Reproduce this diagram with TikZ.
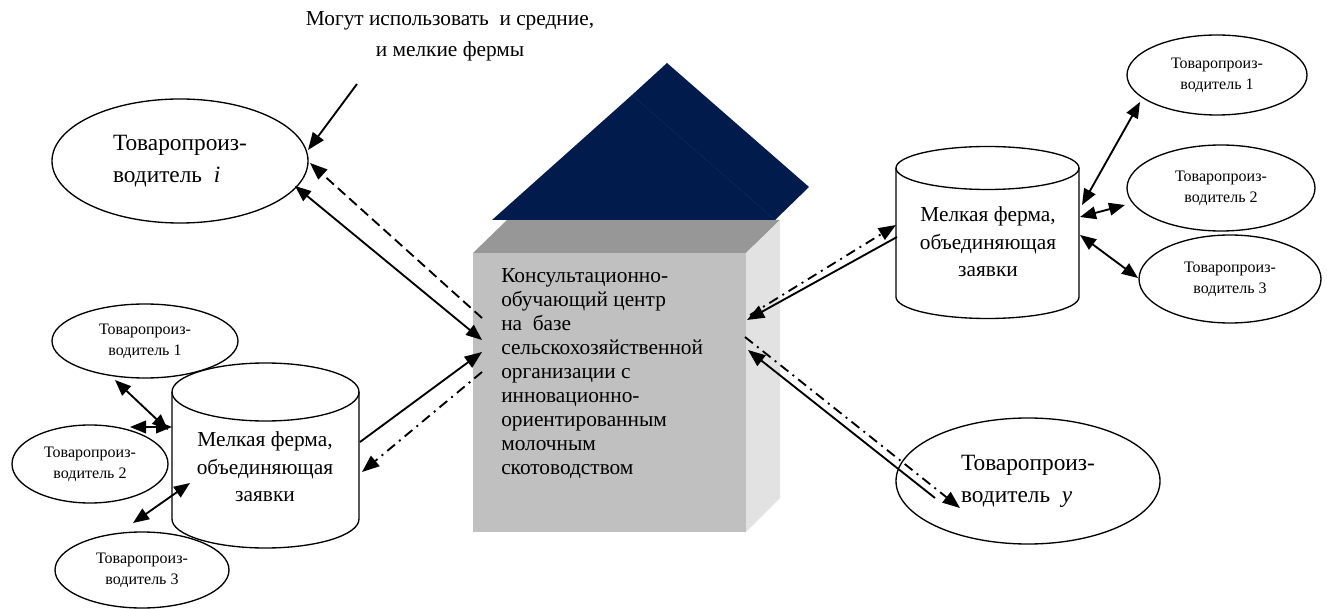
\documentclass[tikz,border=0pt]{standalone}
\usepackage{fontspec}
\setmainfont{Liberation Serif}
\usetikzlibrary{arrows.meta,shapes.geometric}
\definecolor{roofnavy}{RGB}{1,27,76}
\definecolor{roofedge}{RGB}{8,34,90}
\definecolor{boxfront}{RGB}{192,192,192}
\definecolor{boxtop}{RGB}{151,151,151}
\definecolor{boxside}{RGB}{226,226,226}

\begin{document}
\begin{tikzpicture}[x=0.75pt,y=0.75pt,
  prod/.style={ellipse,draw,line width=1pt,inner sep=0pt,align=center,
    font=\fontsize{12}{15.5}\selectfont},
  bigprod/.style={ellipse,draw,line width=1pt,inner sep=0pt,align=left,
    font=\fontsize{17.5}{24}\selectfont},
  farm/.style={draw,line width=1pt,fill=white},
  farmtext/.style={align=center,inner sep=0pt,font=\fontsize{16}{20.5}\selectfont},
  link/.style={line width=1.4pt,-{Triangle[length=13pt,width=10pt]}},
  twoway/.style={line width=1.4pt,
    {Triangle[length=12pt,width=9.5pt]}-{Triangle[length=12pt,width=9.5pt]}},
  dashlink/.style={link,dash pattern=on 7.5pt off 4pt},
  dotlink/.style={link,dash pattern=on 7.5pt off 4pt on 1.5pt off 4pt},
]
\useasboundingbox (0,0) rectangle (1327,-609);

% caption at the top
\node[font=\fontsize{16}{23}\selectfont,align=center,inner sep=0pt] (note) at (450,-36)
  {Могут использовать\ \ и средние,\\и мелкие фермы};

% central building: box and roof
\fill[boxfront] (473,-253) rectangle (746,-532);
\fill[boxtop] (473,-253) -- (507,-220) -- (780,-220) -- (746,-253) -- cycle;
\fill[boxside] (746,-253) -- (780,-220) -- (780,-498) -- (746,-532) -- cycle;
\fill[roofnavy] (632,-95) -- (667,-63) -- (809,-187) -- (775,-220) -- cycle;
\fill[roofnavy] (492,-220) -- (632,-95) -- (775,-220) -- cycle;
\draw[roofedge,line width=0.5pt] (632,-95) -- (775,-220);
\node[anchor=north west,inner sep=0pt,align=left,font=\fontsize{16}{18}\selectfont]
  (centre) at (501,-268)
  {Консультационно-\\обучающий центр\\на\ \ базе\\сельскохозяйственной\\организации с\\инновационно-\\ориентированным\\молочным\\скотоводством};

% producers
\node[bigprod,minimum width=192pt,minimum height=93pt] (ei) at (180,-161)
  {Товаропроиз-\\водитель\ \ \textit{i}};
\node[bigprod,minimum width=198pt,minimum height=94.5pt] (ey) at (1028,-481)
  {Товаропроиз-\\водитель\ \ \textit{y}};
\node[prod,minimum width=139.5pt,minimum height=55.5pt] (l1) at (145,-341) {Товаропроиз-\\водитель 1};
\node[prod,minimum width=117pt,minimum height=58.5pt] (l2) at (90,-464) {Товаропроиз-\\водитель 2};
\node[prod,minimum width=130.5pt,minimum height=57pt] (l3) at (142,-570) {Товаропроиз-\\водитель 3};
\node[prod,minimum width=135pt,minimum height=60pt] (r1) at (1217,-75) {Товаропроиз-\\водитель 1};
\node[prod,minimum width=141pt,minimum height=64.5pt] (r2) at (1221,-188) {Товаропроиз-\\водитель 2};
\node[prod,minimum width=136.5pt,minimum height=66pt] (r3) at (1230,-279) {Товаропроиз-\\водитель 3};

% small farms (cylinders)
\filldraw[farm] (172,-392) -- (172,-519) arc[start angle=180,end angle=360,x radius=93.5,y radius=29]
  -- (359,-392) arc[start angle=0,end angle=180,x radius=93.5,y radius=29] -- cycle;
\draw[line width=1pt] (172,-392) arc[start angle=180,end angle=360,x radius=93.5,y radius=29];
\node[farmtext] (lfarm) at (265,-467) {Мелкая ферма,\\объединяющая\\заявки};

\filldraw[farm] (896,-168) -- (896,-297) arc[start angle=180,end angle=360,x radius=91.5,y radius=21.5]
  -- (1079,-168) arc[start angle=0,end angle=180,x radius=91.5,y radius=21.5] -- cycle;
\draw[line width=1pt] (896,-168) arc[start angle=180,end angle=360,x radius=91.5,y radius=21.5];
\node[farmtext] (rfarm) at (988,-242) {Мелкая ферма,\\объединяющая\\заявки};

% connector end points
\coordinate (noteEnd) at (357,-84);
\coordinate (eiA) at (308,-150);
\coordinate (eiB) at (310,-163);
\coordinate (eiC) at (295,-186);
\coordinate (cL1) at (482,-318);
\coordinate (cL2) at (482,-340);
\coordinate (cL3) at (482,-352);
\coordinate (cL4) at (482,-372);
\coordinate (lfA) at (360,-442);
\coordinate (lfB) at (362,-472);
\coordinate (l1p) at (115,-380);
\coordinate (lf1) at (168,-430);
\coordinate (l2p) at (130,-427);
\coordinate (lf2) at (172,-427);
\coordinate (l3p) at (133,-523);
\coordinate (lf3) at (190,-483);
\coordinate (cR1) at (750,-315);
\coordinate (cR2) at (747,-320);
\coordinate (cR3) at (745,-337);
\coordinate (cR4) at (748,-350);
\coordinate (rfA) at (896,-225);
\coordinate (rfB) at (897,-237);
\coordinate (eyA) at (935,-498);
\coordinate (eyB) at (960,-508);
\coordinate (rf1) at (1082,-205);
\coordinate (r1p) at (1140,-102);
\coordinate (rf2) at (1080,-217);
\coordinate (r2p) at (1125,-205);
\coordinate (rf3) at (1080,-235);
\coordinate (r3p) at (1138,-278);

% connectors
\draw[link] (noteEnd) -- (eiA);
\draw[dashlink] (cL1) -- (eiB);
\draw[twoway] (eiC) -- (cL2);
\draw[link] (lfA) -- (cL3);
\draw[dotlink] (cL4) -- (lfB);
\draw[twoway] (l1p) -- (lf1);
\draw[twoway] (l2p) -- (lf2);
\draw[twoway] (l3p) -- (lf3);
\draw[link] (rfB) -- (cR2);
\draw[dotlink] (cR1) -- (rfA);
\draw[link] (eyA) -- (cR4);
\draw[dotlink] (cR3) -- (eyB);
\draw[twoway] (rf1) -- (r1p);
\draw[twoway] (rf2) -- (r2p);
\draw[twoway] (rf3) -- (r3p);
\end{tikzpicture}
\end{document}
